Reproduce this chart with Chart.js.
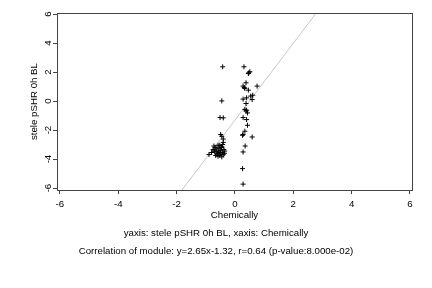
<!DOCTYPE html>
<html>
<head>
<meta charset="utf-8">
<script src="https://cdn.jsdelivr.net/npm/chart.js@4.4.1/dist/chart.umd.min.js"></script>
<style>
  html, body { margin: 0; padding: 0; background: #fff; }
  #wrap { width: 432px; height: 288px; }
</style>
</head>
<body>
<div id="wrap"><canvas id="chart"></canvas></div>
<script>
// values
const xValues = [
  -0.42, -0.45, -0.51, -0.40, -0.49, -0.45, -0.40,
  -0.89, -0.80, -0.75, -0.72, -0.68, -0.65, -0.62, -0.60, -0.58, -0.55,
  -0.52, -0.50, -0.48, -0.46, -0.45, -0.43, -0.42, -0.40, -0.38, -0.36,
  -0.50, -0.55, -0.62, -0.70, -0.40, -0.45, -0.35, -0.52, -0.58, -0.66,
  0.31, 0.46, 0.51, 0.48, 0.38, 0.28, 0.32, 0.46, 0.76, 0.34, 0.54, 0.61,
  0.40, 0.28, 0.59, 0.38, 0.34, 0.40, 0.43, 0.38, 0.28, 0.40, 0.43, 0.34,
  0.28, 0.26, 0.59, 0.35, 0.28, 0.26, 0.28
];
const yValues = [
  2.36, 0.01, -1.14, -1.16, -2.31, -2.43, -2.62,
  -3.69, -3.55, -3.35, -3.10, -3.20, -3.45, -3.30, -3.60, -3.05, -3.50,
  -3.75, -3.40, -3.65, -3.20, -3.85, -3.55, -3.00, -3.70, -3.35, -3.60,
  -3.55, -3.25, -3.65, -3.45, -2.85, -3.15, -3.45, -3.05, -3.80, -3.75,
  2.36, 1.90, 2.02, 1.95, 1.26, 1.03, 0.94, 0.75, 1.03, 0.87, 0.34, 0.40,
  0.22, 0.13, 0.10, -0.17, -0.58, -0.63, -0.82, -0.68, -1.14, -1.28, -1.67, -2.08,
  -2.31, -2.36, -2.48, -3.10, -3.51, -4.66, -5.73
];
// fitted line y=2.65x-1.32, two end points
const lineX = [-2.0, 3.0];
const lineY = [-6.62, 6.63];
const xTicks = [-6, -4, -2, 0, 2, 4, 6];
const yTicks = [-6, -4, -2, 0, 2, 4, 6];
const yLabel = 'stele pSHR 0h BL';
const xLabel = 'Chemically';
const captions = [
  'yaxis: stele pSHR 0h BL, xaxis: Chemically',
  'Correlation of module: y=2.65x-1.32, r=0.64 (p-value:8.000e-02)'
];

const fontFamily = '"Liberation Sans", Arial, Helvetica, sans-serif';
const fontSize = 9.7;

const boxPlugin = {
  id: 'box',
  afterDraw(chart) {
    const a = chart.chartArea, ctx = chart.ctx;
    ctx.save();
    ctx.strokeStyle = '#444';
    ctx.lineWidth = 1;
    ctx.strokeRect(Math.round(a.left) + 0.5, Math.round(a.top) + 0.5,
      Math.round(a.right - a.left), Math.round(a.bottom - a.top));
    ctx.restore();
  }
};

new Chart(document.getElementById('chart'), {
  type: 'scatter',
  data: {
    datasets: [
      {
        data: xValues.map((x, i) => ({ x: x, y: yValues[i] })),
        pointStyle: 'cross',
        pointRadius: 2.5,
        pointBorderWidth: 1,
        borderColor: '#000',
        backgroundColor: '#000',
        order: 1
      },
      {
        data: lineX.map((x, i) => ({ x: x, y: lineY[i] })),
        showLine: true,
        pointRadius: 0,
        borderColor: '#c8c8c8',
        borderWidth: 1,
        order: 2
      }
    ]
  },
  options: {
    responsive: true,
    maintainAspectRatio: false,
    animation: false,
    layout: { padding: { left: 20, top: 13, right: 20, bottom: 28 } },
    plugins: {
      legend: { display: false },
      tooltip: { enabled: false },
      title: {
        display: true,
        position: 'bottom',
        text: captions,
        color: '#000',
        padding: { top: 0, bottom: 0 },
        font: { family: fontFamily, size: fontSize, weight: 'normal', lineHeight: 1.825 }
      }
    },
    scales: {
      x: {
        type: 'linear',
        min: -6.1,
        max: 6.07,
        afterBuildTicks: s => { s.ticks = xTicks.map(v => ({ value: v })); },
        afterFit: s => { s.height = 34.5; },
        border: { display: false },
        grid: { drawOnChartArea: false, drawTicks: true, tickLength: 4, color: '#444' },
        ticks: { color: '#000', padding: 4, maxRotation: 0, font: { family: fontFamily, size: fontSize } },
        title: {
          display: true,
          text: xLabel,
          color: '#000',
          padding: { top: 0, bottom: 3 },
          font: { family: fontFamily, size: fontSize }
        }
      },
      y: {
        type: 'linear',
        min: -6.14,
        max: 6.07,
        afterBuildTicks: s => { s.ticks = yTicks.map(v => ({ value: v })); },
        afterFit: s => { s.width = 37; },
        border: { display: false },
        grid: { drawOnChartArea: false, drawTicks: true, tickLength: 4, color: '#444' },
        ticks: {
          color: '#000', padding: 0, minRotation: 90, maxRotation: 90, crossAlign: 'center',
          font: { family: fontFamily, size: fontSize }
        },
        title: {
          display: true,
          text: yLabel,
          color: '#000',
          padding: { top: 9, bottom: 0 },
          font: { family: fontFamily, size: fontSize }
        }
      }
    }
  },
  plugins: [boxPlugin]
});
</script>
</body>
</html>
